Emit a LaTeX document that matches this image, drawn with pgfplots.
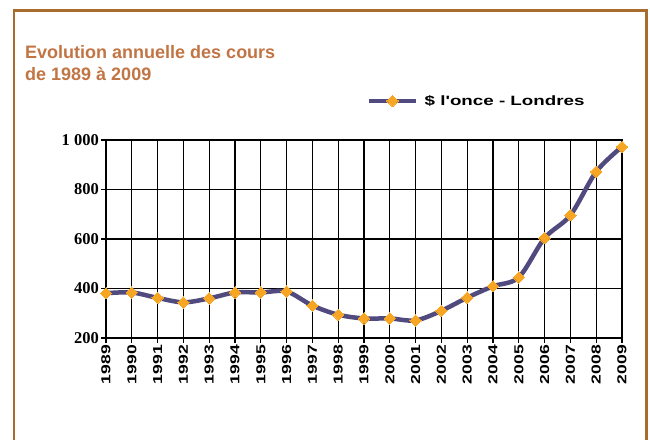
\documentclass[border=0pt]{standalone}
\usepackage{pgfplots}
\pgfplotsset{compat=1.18}
\usepackage{fontspec}
\setmainfont{Liberation Sans}
\newfontfamily\legfont{Liberation Sans}[FakeStretch=1.39]
\newfontfamily\xfont{Liberation Sans}[FakeStretch=1.35]
\newfontfamily\serifb{Liberation Serif}
\definecolor{framec}{HTML}{A86C2C}
\definecolor{titlec}{HTML}{C27544}
\definecolor{linec}{HTML}{504A7E}
\definecolor{markc}{HTML}{F6A623}
\begin{document}
\begin{tikzpicture}[x=1pt,y=1pt]
\useasboundingbox (0,0) rectangle (650,439);
\draw[color=framec, line width=2.5pt] (14,-5) -- (14,428.5) -- (646.5,428.5) -- (646.5,-5);
\node[anchor=base west, inner sep=0pt, text=titlec, font=\fontsize{18}{20}\selectfont\bfseries] at (25,380.7) {Evolution annuelle des cours};
\node[anchor=base west, inner sep=0pt, text=titlec, font=\fontsize{18}{20}\selectfont\bfseries] at (25,358) {de 1989 à 2009};
\begin{axis}[
  at={(106pt,101pt)}, anchor=south west,
  scale only axis, width=516pt, height=198pt,
  xmin=1989, xmax=2009, ymin=200, ymax=1000,
  xtick={1989,1990,1991,1992,1993,1994,1995,1996,1997,1998,1999,2000,2001,2002,2003,2004,2005,2006,2007,2008,2009},
  xticklabels={1989,1990,1991,1992,1993,1994,1995,1996,1997,1998,1999,2000,2001,2002,2003,2004,2005,2006,2007,2008,2009},
  ytick={200,400,600,800,1000},
  yticklabels={200,400,600,800,1 000},
  xtick pos=bottom, ytick pos=left,
  tick align=outside, major tick length=5pt,
  tick style={black, line width=1.3pt},
  grid=major, grid style={black, line width=1.3pt},
  axis line style={black, line width=1.3pt},
  xticklabel style={rotate=90, anchor=east, font=\xfont\bfseries\fontsize{13}{14}\selectfont, inner sep=2pt},
  yticklabel style={font=\serifb\bfseries\fontsize{16.5}{18}\selectfont, inner sep=2pt},
  legend style={at={(axis description cs:0.5058,1.197)}, anchor=west, draw=none, fill=none,
    font=\legfont\bfseries\fontsize{13.5}{15}\selectfont, inner sep=0pt, column sep=7pt,
    nodes={inner sep=0pt}},
  legend image code/.code={\draw[mark repeat=2,mark phase=2,#1] plot coordinates {(0pt,0pt) (23pt,0pt) (46pt,0pt)};},
]
\addplot[color=linec, line width=4.5pt, smooth, mark=square*, mark size=4pt,
  mark options={fill=markc, draw=markc, line width=0pt, rotate=45}] coordinates {
(1989,381) (1990,384) (1991,362) (1992,344) (1993,360) (1994,384) (1995,384)
(1996,388) (1997,331) (1998,294) (1999,279) (2000,279) (2001,271) (2002,310)
(2003,363) (2004,409) (2005,445) (2006,604) (2007,696) (2008,872) (2009,973)
};
\addlegendentry{\$ l'once - Londres}
\end{axis}
\end{tikzpicture}
\end{document}
